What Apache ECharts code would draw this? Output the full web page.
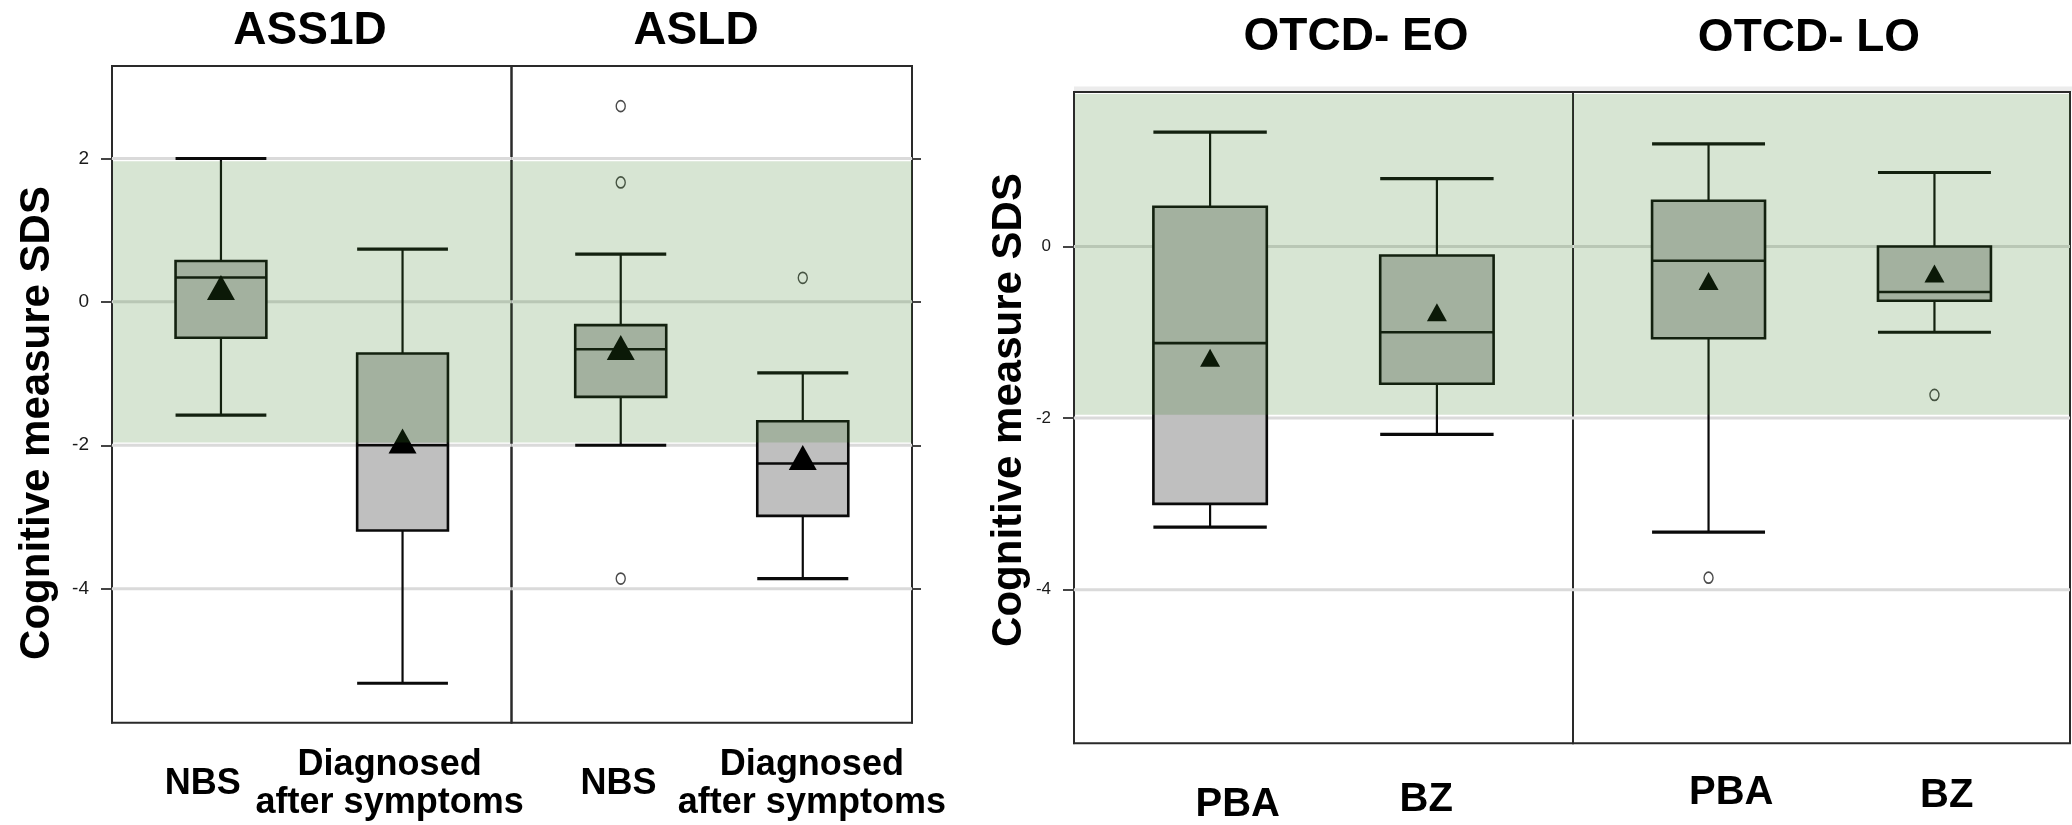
<!DOCTYPE html>
<html>
<head>
<meta charset="utf-8">
<script src="https://cdn.jsdelivr.net/npm/echarts@6/dist/echarts.min.js"></script>
<style>
html,body{margin:0;padding:0;background:#fff;}
#chart{width:2072px;height:825px;}
</style>
</head>
<body>
<div id="chart"></div>
<script>
// ---------------- data ----------------
const panelTitles = ['ASS1D', 'ASLD', 'OTCD- EO', 'OTCD- LO'];
const yAxisName = 'Cognitive measure SDS';
const categoriesLeft = ['NBS', 'Diagnosed\nafter symptoms'];
const categoriesRight = ['PBA', 'BZ'];
// each box: [lower whisker, Q1, median, Q3, upper whisker]
const ass1dBoxes = [[-1.58, -0.50, 0.34, 0.57, 2.00], [-5.32, -3.19, -2.00, -0.72, 0.735]];
const ass1dMeans = [0.20, -1.94];
const ass1dOutliers = [[], []];
const asldBoxes = [[-2.00, -1.325, -0.66, -0.325, 0.666], [-3.86, -2.985, -2.255, -1.665, -0.99]];
const asldMeans = [-0.635, -2.17];
const asldOutliers = [[2.73, 1.666, -3.86], [0.335]];
const otcdEoBoxes = [[-3.27, -3.00, -1.126, 0.463, 1.333], [-2.19, -1.60, -1.00, -0.105, 0.79]];
const otcdEoMeans = [-1.297, -0.767];
const otcdEoOutliers = [[], []];
const otcdLoBoxes = [[-3.33, -1.07, -0.167, 0.532, 1.196], [-1.00, -0.633, -0.53, 0.00, 0.862]];
const otcdLoMeans = [-0.403, -0.316];
const otcdLoOutliers = [[-3.86], [-1.73]];
const yTicksLeft = [2, 0, -2, -4];
const yTicksRight = [0, -2, -4];
const normalBand = [-1.96, 1.96];
const yRangeLeft = [-5.87, 3.29];
const yRangeRight = [-5.79, 1.80];

// ---------------- layout / style ----------------
const FONT = '"Liberation Sans", Arial, sans-serif';
const grids = [
  {left: 112,   top: 66, width: 399.5, height: 656.7},
  {left: 511.5, top: 66, width: 400.5, height: 656.7},
  {left: 1074,  top: 92, width: 499,   height: 651.3},
  {left: 1573,  top: 92, width: 497,   height: 651.3}
];
const panels = [
  {boxes: ass1dBoxes, means: ass1dMeans, outliers: ass1dOutliers, cats: categoriesLeft, range: yRangeLeft, ticks: yTicksLeft, tri: [28, 25]},
  {boxes: asldBoxes, means: asldMeans, outliers: asldOutliers, cats: categoriesLeft, range: yRangeLeft, ticks: yTicksLeft, tri: [28, 25]},
  {boxes: otcdEoBoxes, means: otcdEoMeans, outliers: otcdEoOutliers, cats: categoriesRight, range: yRangeRight, ticks: yTicksRight, tri: [20, 18]},
  {boxes: otcdLoBoxes, means: otcdLoMeans, outliers: otcdLoOutliers, cats: categoriesRight, range: yRangeRight, ticks: yTicksRight, tri: [20, 18]}
];
// per-label nudges [dx, dy(down)] for the category labels
const labelNudge = [[[-9, 19], [-22, 0]], [[7, 19], [0, 0]], [[39, 13], [-22, 8]], [[34, 1], [1, 4]]];
const labelMargin = [23, 23, 29, 29];
const labelSize = [36, 36, 40, 40];
const labelLineH = [38, 38, 40, 40];

const STROKE = '#0a0a0a';
const BAND = 'rgba(53,127,33,0.2)';

function boxRender(params, api) {
  const x = api.value(0);
  const pLo = api.coord([x, api.value(1)]);
  const pQ1 = api.coord([x, api.value(2)]);
  const pMed = api.coord([x, api.value(3)]);
  const pQ3 = api.coord([x, api.value(4)]);
  const pHi = api.coord([x, api.value(5)]);
  const w = api.size([0.5, 0])[0];
  const cx = pLo[0], hw = w / 2;
  return {
    type: 'group',
    children: [
      {type: 'line', shape: {x1: cx, y1: pHi[1], x2: cx, y2: pQ3[1]}, style: {stroke: STROKE, lineWidth: 2.2}},
      {type: 'line', shape: {x1: cx, y1: pQ1[1], x2: cx, y2: pLo[1]}, style: {stroke: STROKE, lineWidth: 2.2}},
      {type: 'line', shape: {x1: cx - hw, y1: pHi[1], x2: cx + hw, y2: pHi[1]}, style: {stroke: STROKE, lineWidth: 3.2}},
      {type: 'line', shape: {x1: cx - hw, y1: pLo[1], x2: cx + hw, y2: pLo[1]}, style: {stroke: STROKE, lineWidth: 3.2}},
      {type: 'rect', shape: {x: cx - hw, y: pQ3[1], width: w, height: pQ1[1] - pQ3[1]}, style: {fill: '#bfbfbf', stroke: STROKE, lineWidth: 2.6}},
      {type: 'line', shape: {x1: cx - hw, y1: pMed[1], x2: cx + hw, y2: pMed[1]}, style: {stroke: STROKE, lineWidth: 2.6}}
    ]
  };
}
function bandRender(params, api) {
  const cs = params.coordSys;
  const yTop = api.coord([0, api.value(2)])[1];
  const yBot = api.coord([0, api.value(1)])[1];
  const t = Math.max(yTop, cs.y + 2), b = Math.min(yBot, cs.y + cs.height);
  return {type: 'rect', shape: {x: cs.x + 1, y: t, width: cs.width - 1, height: b - t}, style: {fill: BAND}};
}
function gridLineRender(params, api) {
  const cs = params.coordSys;
  const y = api.coord([0, api.value(1)])[1];
  return {type: 'line', shape: {x1: cs.x, y1: y, x2: cs.x + cs.width, y2: y}, style: {stroke: '#dadada', lineWidth: 3}};
}

const option = {
  animation: false,
  backgroundColor: '#fff',
  grid: grids.map(g => Object.assign({show: true, borderColor: '#2a2a2a', borderWidth: 2, backgroundColor: 'transparent', containLabel: false, outerBoundsMode: 'none'}, g)),
  xAxis: [],
  yAxis: [],
  series: [],
  graphic: []
};

panels.forEach((p, i) => {
  option.xAxis.push({type: 'value', gridIndex: i, min: -0.6, max: 1.6, show: false, axisLine: {onZero: false}});
  option.yAxis.push({
    type: 'value', gridIndex: i, min: p.range[0], max: p.range[1],
    position: (i === 1) ? 'right' : 'left',
    show: i !== 3,
    axisLine: {show: true, onZero: false, lineStyle: {color: '#2a2a2a', width: 2}},
    axisTick: {show: true, customValues: p.ticks, length: i === 1 ? 9 : 11, lineStyle: {color: '#444', width: 2}},
    axisLabel: {show: i === 0 || i === 2, customValues: p.ticks, fontFamily: FONT, fontSize: i === 0 ? 19 : 17, color: '#1a1a1a', margin: 23},
    splitLine: {show: false}
  });
});
panels.forEach((p, i) => {
  option.xAxis.push({
    type: 'category', gridIndex: i, position: 'bottom', boundaryGap: true,
    data: p.cats.map((c, k) => {
      const n = labelNudge[i][k];
      const pad = [Math.max(0, n[1]), Math.max(0, -2 * n[0]), 0, Math.max(0, 2 * n[0])];
      return {value: c, textStyle: {padding: pad}};
    }),
    axisLine: {show: false, onZero: false}, axisTick: {show: false}, splitLine: {show: false},
    axisLabel: {interval: 0, fontFamily: FONT, fontWeight: 'bold', fontSize: labelSize[i], color: '#000', lineHeight: labelLineH[i], verticalAlign: 'top', margin: labelMargin[i]}
  });
});

panels.forEach((p, i) => {
  option.series.push({
    type: 'custom', xAxisIndex: i, yAxisIndex: i, z: 1, silent: true,
    renderItem: gridLineRender, encode: {x: 0, y: 1},
    data: p.ticks.map(v => [0, v])
  });
  option.series.push({
    type: 'custom', xAxisIndex: i, yAxisIndex: i, z: 2, silent: true,
    renderItem: boxRender, encode: {x: 0, y: [1, 2, 3, 4, 5]},
    data: p.boxes.map((b, k) => [k].concat(b))
  });
  option.series.push({
    type: 'scatter', xAxisIndex: i, yAxisIndex: i, z: 3, silent: true,
    symbol: 'triangle', symbolSize: p.tri,
    itemStyle: {color: '#000', opacity: 1},
    data: p.means.map((m, k) => [k, m])
  });
  const outs = [];
  p.outliers.forEach((arr, k) => arr.forEach(v => outs.push([k, v])));
  option.series.push({
    type: 'scatter', xAxisIndex: i, yAxisIndex: i, z: 3, silent: true,
    symbol: 'circle', symbolSize: [9, 11],
    itemStyle: {color: 'rgba(255,255,255,0)', borderColor: '#4a4a4a', borderWidth: 1.5, opacity: 1},
    data: outs
  });
  option.series.push({
    type: 'custom', xAxisIndex: i, yAxisIndex: i, z: 6, silent: true,
    renderItem: bandRender, encode: {x: 0, y: [1, 2]},
    data: [[0, normalBand[0], normalBand[1]]]
  });
});

// titles and axis names
const titlePos = [[310, 31.7], [696, 31.7], [1356, 37.5], [1809, 38]];
panelTitles.forEach((t, i) => {
  option.graphic.push({type: 'text', x: titlePos[i][0], y: titlePos[i][1], z: 10,
    style: {text: t, font: 'bold 46px ' + FONT, fill: '#000', align: 'center', verticalAlign: 'middle', textAlign: 'center', textVerticalAlign: 'middle'}});
});
[[37, 423], [1009, 410]].forEach(pos => {
  option.graphic.push({type: 'text', x: pos[0], y: pos[1], rotation: Math.PI / 2, z: 10,
    style: {text: yAxisName, font: 'bold 42px ' + FONT, fill: '#000', align: 'center', verticalAlign: 'middle', textAlign: 'center', textVerticalAlign: 'middle'}});
});
// faint header strip above right panel
option.graphic.push({type: 'rect', z: -1, shape: {x: 1074, y: 86.5, width: 998, height: 5}, style: {fill: '#ececec'}});

const chart = echarts.init(document.getElementById('chart'), null, {renderer: 'canvas'});
chart.setOption(option);
</script>
</body>
</html>
